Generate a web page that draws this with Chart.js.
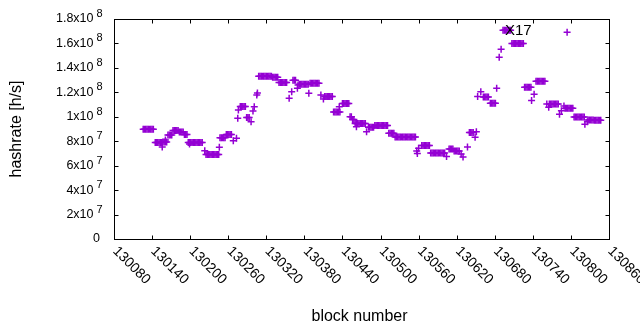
<!DOCTYPE html>
<html>
<head>
<meta charset="utf-8">
<script src="https://cdn.jsdelivr.net/npm/chart.js@4.4.0/dist/chart.umd.min.js"></script>
<style>
  html, body { margin: 0; padding: 0; background: #fff; }
  #chart { display: block; }
</style>
</head>
<body>
<canvas id="chart" width="640" height="330"></canvas>
<script>
// ブロック番号
const blocks = [
  130126, 130128, 130130, 130132, 130134, 130136, 130138, 130140, 130142,
  130145, 130147, 130149, 130151, 130153, 130155, 130156,
  130157, 130159, 130161, 130163, 130161,
  130165, 130167, 130169, 130171,
  130173, 130175, 130177, 130179, 130181,
  130183, 130185, 130187, 130189, 130191, 130193, 130195,
  130197, 130199, 130201, 130203, 130205, 130207, 130209, 130211, 130213, 130215, 130217, 130219, 130199,
  130223, 130225, 130227, 130229, 130231, 130233, 130235, 130237, 130239, 130241, 130243, 130245, 130246,
  130247, 130249, 130251, 130253, 130255, 130257, 130259, 130261, 130263, 130265, 130268, 130273,
  130275, 130276, 130279, 130281, 130283, 130285, 130287, 130289, 130291, 130293, 130296,
  130299, 130301, 130305, 130306,
  130308, 130310, 130312, 130314, 130316, 130318, 130320, 130322, 130324, 130326, 130328,
  130330, 130332, 130334, 130336, 130338,
  130340, 130342, 130344, 130346, 130348, 130350, 130352, 130356, 130360,
  130362, 130364, 130366, 130369, 130370,
  130372, 130374, 130376, 130378, 130380, 130382, 130384, 130386, 130387,
  130389, 130391, 130393, 130395, 130397, 130399, 130401, 130403, 130406, 130410,
  130412, 130414, 130416, 130418, 130420, 130422, 130424,
  130426, 130428, 130430, 130432, 130434, 130436, 130435,
  130440, 130442, 130444, 130446, 130448, 130450,
  130452, 130454, 130456, 130458,
  130460, 130462, 130464, 130466, 130468, 130470, 130472, 130474, 130476, 130462, 130478,
  130481, 130483, 130485, 130487, 130489,
  130491, 130493, 130495, 130497, 130499, 130501, 130503, 130505, 130507, 130509, 130511,
  130513, 130515, 130517, 130519, 130521,
  130523, 130525, 130527, 130529, 130531, 130533, 130535, 130537, 130539, 130541, 130543, 130545, 130547, 130549, 130551, 130553, 130555,
  130557, 130558, 130560,
  130565, 130567, 130569, 130571, 130573, 130575, 130577,
  130579, 130581, 130583, 130585, 130587, 130589, 130591, 130593, 130595, 130597, 130599, 130601, 130604,
  130608, 130610, 130612, 130614, 130616, 130618, 130620, 130622, 130624,
  130627, 130630, 130637,
  130640, 130642, 130644, 130646, 130649, 130651, 130653, 130658,
  130662, 130664, 130666, 130668, 130670, 130673, 130675, 130677, 130679, 130681,
  130683, 130687, 130690,
  130693, 130695, 130697, 130699, 130701, 130703, 130705,
  130707, 130709, 130711, 130713, 130715, 130717, 130719, 130721, 130723, 130725,
  130727, 130729, 130731, 130733, 130735, 130737, 130738, 130742,
  130745, 130747, 130749, 130751, 130753, 130755, 130757, 130759, 130762, 130765,
  130766, 130768, 130770, 130772, 130774, 130776, 130778, 130780, 130782, 130785, 130789,
  130791, 130793, 130795, 130797, 130799, 130801, 130803, 130794,
  130805, 130807, 130809, 130811, 130813, 130815, 130817, 130819, 130821, 130822, 130826,
  130827, 130829, 130831, 130833, 130835, 130837, 130839, 130841, 130843, 130845, 130847
]

// ハッシュレート (単位 10^7 h/s)
const hashrate = [
  8.97, 8.97, 8.97, 8.97, 8.97, 8.97, 8.97, 8.97, 8.97,
  7.90, 7.90, 7.90, 7.90, 7.90, 7.90, 7.52,
  7.94, 7.94, 7.94, 7.94, 8.10,
  8.50, 8.50, 8.50, 8.50,
  8.87, 8.87, 8.87, 8.87, 8.87,
  8.75, 8.75, 8.75, 8.75, 8.56, 8.56, 8.56,
  7.90, 7.90, 7.90, 7.90, 7.90, 7.90, 7.90, 7.90, 7.90, 7.90, 7.90, 7.90, 7.77,
  7.22, 6.92, 6.92, 6.92, 6.92, 6.92, 6.92, 6.92, 6.92, 6.92, 6.92, 6.92, 7.50,
  8.28, 8.28, 8.28, 8.28, 8.28, 8.55, 8.55, 8.55, 8.55, 8.55, 8.04, 8.24,
  9.88, 10.55, 10.85, 10.85, 10.85, 10.85, 10.85, 9.95, 9.95, 9.95, 9.60,
  10.47, 10.82, 11.78, 11.95,
  13.31, 13.31, 13.31, 13.31, 13.31, 13.31, 13.31, 13.31, 13.31, 13.31, 13.31,
  13.23, 13.23, 13.23, 13.23, 13.23,
  12.80, 12.80, 12.80, 12.80, 12.80, 12.80, 12.80, 11.51, 12.05,
  12.98, 12.98, 12.98, 12.33, 12.60,
  12.66, 12.66, 12.66, 12.66, 12.66, 12.66, 12.66, 12.66, 11.92,
  12.74, 12.74, 12.74, 12.74, 12.74, 12.74, 12.74, 12.74, 11.78, 11.45,
  11.65, 11.65, 11.65, 11.65, 11.65, 11.65, 11.65,
  10.40, 10.40, 10.40, 10.40, 10.40, 10.40, 10.82,
  11.08, 11.08, 11.08, 11.08, 11.08, 11.08,
  10.00, 10.00, 9.78, 9.78,
  9.45, 9.45, 9.45, 9.45, 9.45, 9.45, 9.45, 9.45, 9.45, 9.19, 8.78,
  9.14, 9.14, 9.14, 9.14, 9.14,
  9.29, 9.29, 9.29, 9.29, 9.29, 9.29, 9.29, 9.29, 9.29, 9.29, 9.29,
  8.65, 8.65, 8.65, 8.65, 8.65,
  8.35, 8.35, 8.35, 8.35, 8.35, 8.35, 8.35, 8.35, 8.35, 8.35, 8.35, 8.35, 8.35, 8.35, 8.35, 8.35, 8.35,
  7.20, 7.00, 7.42,
  7.65, 7.65, 7.65, 7.65, 7.65, 7.65, 7.65,
  7.04, 7.04, 7.04, 7.04, 7.04, 7.04, 7.04, 7.04, 7.04, 7.04, 7.04, 7.04, 6.75,
  7.36, 7.36, 7.36, 7.36, 7.20, 7.20, 7.20, 7.20, 7.20,
  6.95, 6.71, 7.53,
  8.72, 8.72, 8.72, 8.72, 8.32, 8.78, 11.66, 12.05,
  11.62, 11.62, 11.62, 11.62, 11.62, 11.10, 11.10, 11.10, 11.10, 11.10,
  12.33, 14.87, 15.52,
  17.08, 17.08, 17.08, 17.08, 17.08, 17.08, 17.08,
  16.00, 16.00, 16.00, 16.00, 16.00, 16.00, 16.00, 16.00, 16.00, 16.00,
  12.41, 12.41, 12.41, 12.41, 12.41, 12.41, 11.33, 11.84,
  12.90, 12.90, 12.90, 12.90, 12.90, 12.90, 12.90, 12.90, 11.05, 10.78,
  11.05, 11.05, 11.05, 11.05, 11.05, 11.05, 11.05, 11.05, 10.20, 10.50, 10.88,
  10.69, 10.69, 10.69, 10.69, 10.69, 10.69, 10.69, 16.91,
  9.98, 9.98, 9.98, 9.98, 9.98, 9.98, 9.98, 9.98, 9.98, 9.38, 9.60,
  9.74, 9.74, 9.74, 9.74, 9.74, 9.71, 9.71, 9.71, 9.71, 9.71, 9.71
]

// 目盛り
const xTicks = [130080, 130140, 130200, 130260, 130320, 130380, 130440, 130500, 130560, 130620, 130680, 130740, 130800, 130860]
const yTicks = [0, 2e7, 4e7, 6e7, 8e7, 1e8, 1.2e8, 1.4e8, 1.6e8, 1.8e8]
const yTickBase = ['0', '2x10', '4x10', '6x10', '8x10', '1x10', '1.2x10', '1.4x10', '1.6x10', '1.8x10']
const yTickExp = ['', '7', '7', '7', '7', '8', '8', '8', '8', '8']

// ラベル
const xTitle = 'block number'
const yTitle = 'hashrate [h/s]'
const noteText = 'X17'
const noteBlock = 130696
const noteValue = 1.7e8

const FONT = '"Liberation Sans", Arial, sans-serif'

// 白背景
const background = {
    id: 'background',
    beforeDraw(chart) {
        const ctx = chart.ctx
        ctx.save()
        ctx.fillStyle = '#fff'
        ctx.fillRect(0, 0, chart.width, chart.height)
        ctx.restore()
    }
}

// gnuplot風の枠・目盛り・文字
const frame = {
    id: 'frame',
    afterDraw(chart) {
        const ctx = chart.ctx
        const area = chart.chartArea
        const xs = chart.scales.x
        const ys = chart.scales.y
        const L = Math.round(area.left) + 0.5
        const R = Math.round(area.right) + 0.5
        const T = Math.round(area.top) + 0.5
        const B = Math.round(area.bottom) + 0.5
        ctx.save()
        ctx.strokeStyle = '#000'
        ctx.lineWidth = 1
        ctx.strokeRect(L, T, R - L, B - T)

        ctx.beginPath()
        xTicks.forEach(v => {
            const px = Math.round(xs.getPixelForValue(v)) + 0.5
            ctx.moveTo(px, B); ctx.lineTo(px, B - 4)
            ctx.moveTo(px, T); ctx.lineTo(px, T + 4)
        })
        yTicks.forEach(v => {
            const py = Math.round(ys.getPixelForValue(v)) + 0.5
            ctx.moveTo(L, py); ctx.lineTo(L + 4, py)
            ctx.moveTo(R, py); ctx.lineTo(R - 4, py)
        })
        ctx.stroke()

        ctx.fillStyle = '#000'
        ctx.textBaseline = 'middle'
        // y軸ラベル
        yTicks.forEach((v, i) => {
            const py = ys.getPixelForValue(v)
            if (yTickExp[i]) {
                ctx.font = '12.5px ' + FONT
                ctx.textAlign = 'right'
                ctx.fillText(yTickBase[i], area.left - 20.5, py)
                ctx.font = '11px ' + FONT
                ctx.textAlign = 'left'
                ctx.fillText(yTickExp[i], area.left - 17.5, py - 5)
            } else {
                ctx.font = '12.5px ' + FONT
                ctx.textAlign = 'right'
                ctx.fillText(yTickBase[i], area.left - 14, py)
            }
        })
        // x軸ラベル (斜め)
        ctx.font = '14px ' + FONT
        ctx.textAlign = 'left'
        xTicks.forEach(v => {
            const px = xs.getPixelForValue(v)
            ctx.save()
            ctx.translate(px + 1, area.bottom + 10)
            ctx.rotate(Math.PI / 4)
            ctx.fillText(String(v), 0, 0)
            ctx.restore()
        })
        // 軸タイトル
        ctx.font = '16px ' + FONT
        ctx.textAlign = 'center'
        ctx.fillText(xTitle, (area.left + area.right) / 2 - 2, 317)
        ctx.save()
        ctx.translate(17, (area.top + area.bottom) / 2)
        ctx.rotate(-Math.PI / 2)
        ctx.fillText(yTitle, 0, 0)
        ctx.restore()
        // 注記
        ctx.font = '15px ' + FONT
        ctx.textAlign = 'left'
        ctx.fillText(noteText, xs.getPixelForValue(noteBlock), ys.getPixelForValue(noteValue))
        ctx.restore()
    }
}

// 散布図生成
let points = blocks.map((b, i) => ({ x: b, y: hashrate[i] * 1e7 }))
let scatter = new Chart(document.getElementById('chart').getContext('2d'), {
    type: 'scatter',
    data: {
        datasets: [
            {
                data: points,
                pointStyle: 'cross',
                pointRadius: 3.5,
                pointHoverRadius: 3.5,
                borderWidth: 1.5,
                borderColor: '#9400d3',
                backgroundColor: '#9400d3',
            },
        ],
    },
    options: {
        responsive: false,
        animation: false,
        devicePixelRatio: 1,
        layout: { padding: { left: 114, right: 31, top: 19, bottom: 91 } },
        plugins: { legend: { display: false }, tooltip: { enabled: false } },
        events: [],
        scales: {
            x: { type: 'linear', display: false, min: 130080, max: 130860 },
            y: { type: 'linear', display: false, min: 0, max: 1.8e8 },
        },
    },
    plugins: [background, frame],
})
</script>
</body>
</html>
